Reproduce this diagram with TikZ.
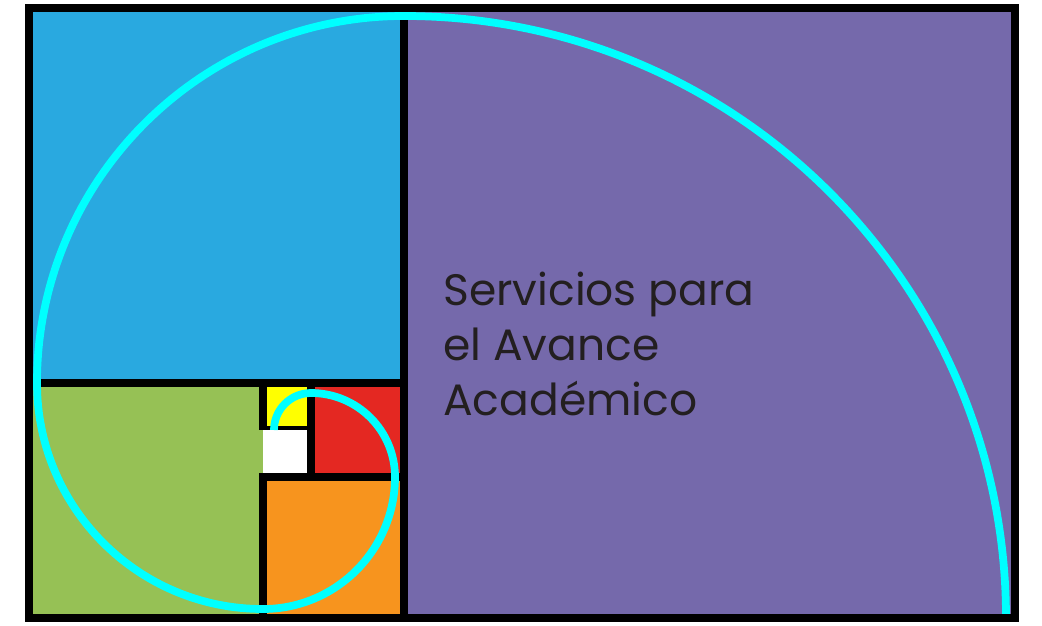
\documentclass[tikz,border=0pt]{standalone}
\usepackage{fontspec}
\setmainfont{Poppins}
\usepackage{xcolor}
\usepackage{tikz}
\usetikzlibrary{positioning}

\definecolor{sqblue}{HTML}{29A9E0}
\definecolor{sqpurple}{HTML}{7569AB}
\definecolor{sqgreen}{HTML}{96C155}
\definecolor{sqorange}{HTML}{F7941E}
\definecolor{sqred}{HTML}{E42822}
\definecolor{sqyellow}{HTML}{FFFF00}
\definecolor{spiralcyan}{HTML}{00FFFF}
\definecolor{inkgray}{HTML}{231F20}

\begin{document}
\begin{tikzpicture}[x=0.75pt, y=-0.75pt,
  rule/.style={line width=6pt, black},
  thinrule/.style={line width=3.5pt, black},
  spiral/.style={line width=5.8pt, draw=spiralcyan},
  label/.style={font=\fontsize{33}{41.25}\selectfont, text=inkgray,
                align=left, inner sep=0pt},
]
\useasboundingbox (0,0) rectangle (1042,625);
\fill[white] (0,0) rectangle (1042,625);

\fill[sqpurple] (404,8)   rectangle (1014.5,618);
\fill[sqblue]   (29,8)    rectangle (404,383);
\fill[sqgreen]  (29,383)  rectangle (263,618);
\fill[sqorange] (263,477) rectangle (404,618);
\fill[sqred]    (311,383) rectangle (404,477);
\fill[sqyellow] (263,383) rectangle (311,430);
\fill[white]    (263,430) rectangle (311,477);

\draw[rule] (404,8) -- (404,618);
\draw[rule] (29,383) -- (404,383);
\draw[rule] (404,477) -- (263,477) -- (263,618);
\draw[rule] (311,383) -- (311,477);
\draw[rule] (263,383) -- (263,430);
\draw[thinrule] (259,428) -- (311,428);

\draw[spiral] (1006,618)
  arc[start angle=0,   end angle=-90,  radius=602]
  arc[start angle=-90, end angle=-180, radius=367]
  arc[start angle=180, end angle=90,   radius=226]
  arc[start angle=90,  end angle=0,    radius=132]
  arc[start angle=0,   end angle=-90,  radius=84]
  arc[start angle=-90, end angle=-180, radius=37];

\draw[rule] (29,8) rectangle (1014.5,618);

\node[label, anchor=base west] (title) at (443,415)
  {Servicios para\\el Avance\\Académico};
\end{tikzpicture}
\end{document}
